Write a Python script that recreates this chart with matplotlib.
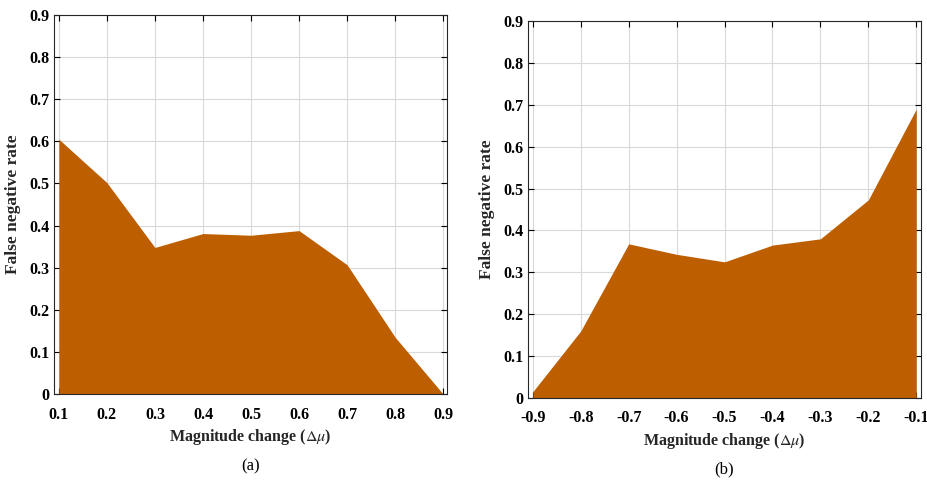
import matplotlib
matplotlib.use("Agg")
import matplotlib.pyplot as plt

plt.rcParams['font.family'] = ['Liberation Serif', 'DejaVu Serif']
plt.rcParams['mathtext.fontset'] = 'stix'

# panel (a): positive magnitude change
shift_pos = [0.1, 0.2, 0.3, 0.4, 0.5, 0.6, 0.7, 0.8, 0.9]
fnr_pos = [0.605, 0.502, 0.348, 0.381, 0.377, 0.388, 0.307, 0.135, 0.0]

# panel (b): negative magnitude change
shift_neg = [-0.9, -0.8, -0.7, -0.6, -0.5, -0.4, -0.3, -0.2, -0.1]
fnr_neg = [0.015, 0.160, 0.368, 0.343, 0.325, 0.365, 0.380, 0.473, 0.690]

y_ticks = [0, 0.1, 0.2, 0.3, 0.4, 0.5, 0.6, 0.7, 0.8, 0.9]
fill_color = '#bd5f00'


def draw_panel(ax, x, y, xlim, caption):
    ax.fill_between(x, 0, y, color=fill_color, linewidth=0)
    ax.set_xlim(xlim)
    ax.set_ylim(0, 0.9)
    ax.set_xticks(x)
    ax.set_xticklabels([('%g' % v) for v in x])
    ax.set_yticks(y_ticks)
    ax.set_yticklabels([('%g' % v) for v in y_ticks])
    ax.set_axisbelow(True)
    ax.grid(True, color='#d9d9d9', linewidth=0.8)
    ax.tick_params(direction='in', top=True, right=True, length=4,
                   labelsize=11.5, width=0.8)
    ax.tick_params(axis='x', pad=9)
    for lab in ax.get_xticklabels() + ax.get_yticklabels():
        lab.set_fontweight('bold')
    for sp in ax.spines.values():
        sp.set_color('#262626')
        sp.set_linewidth(0.8)
    ax.set_xlabel(r'Magnitude change ($\Delta\mu$)', fontsize=11.5,
                  fontweight='bold', color='#262626', labelpad=3)
    ax.set_ylabel('False negative rate', fontsize=12.5, fontweight='bold',
                  color='#262626', labelpad=6)
    ax.text(0.5, -0.19, caption, transform=ax.transAxes, ha='center',
            va='center', fontsize=12)


fig = plt.figure(figsize=(9.28, 4.8), dpi=100)
ax1 = fig.add_axes([0.0582, 0.179, 0.4235, 0.79])
ax2 = fig.add_axes([0.569, 0.171, 0.4235, 0.785])

draw_panel(ax1, shift_pos, fnr_pos, (0.09, 0.908), '(a)')
draw_panel(ax2, shift_neg, fnr_neg, (-0.91, -0.09), '(b)')

fig.savefig('out.png', dpi=100)
